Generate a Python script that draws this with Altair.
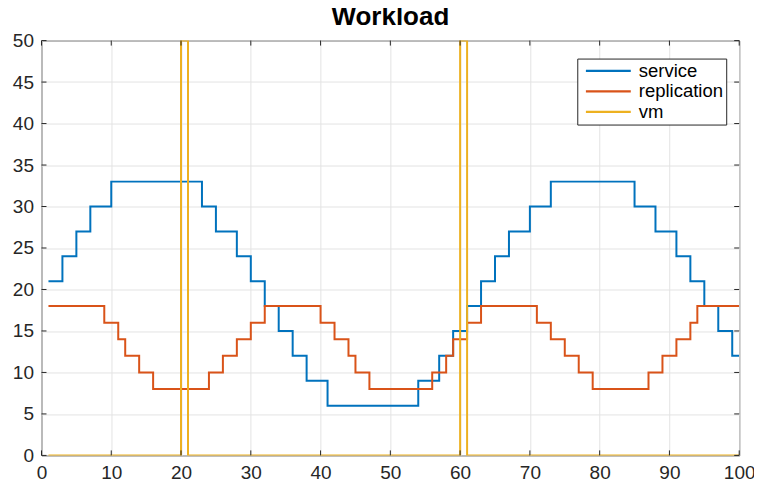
import altair as alt
import pandas as pd

# Step breakpoints (value holds from x until the next x)
service_x = [1, 3, 5, 7, 10, 23, 25, 28, 30, 32, 34, 36, 38, 41, 54, 57, 59, 61, 63, 65, 67, 70, 73, 85, 88, 91, 93, 95, 97, 99, 100]
service_y = [21, 24, 27, 30, 33, 30, 27, 24, 21, 18, 15, 12, 9, 6, 9, 12, 15, 18, 21, 24, 27, 30, 33, 30, 27, 24, 21, 18, 15, 12, 12]

replication_x = [1, 9, 11, 12, 14, 16, 24, 26, 28, 30, 32, 40, 42, 44, 45, 47, 56, 58, 59, 61, 63, 71, 73, 75, 77, 79, 87, 89, 91, 93, 94, 100]
replication_y = [18, 16, 14, 12, 10, 8, 10, 12, 14, 16, 18, 16, 14, 12, 10, 8, 10, 12, 14, 16, 18, 16, 14, 12, 10, 8, 10, 12, 14, 16, 18, 18]

vm_x = [1, 20, 21, 60, 61, 100]
vm_y = [0, 50, 0, 50, 0, 0]

series_names = ["service", "replication", "vm"]
series_colors = ["#0072BD", "#D95319", "#EDB120"]
x_ticks = list(range(0, 101, 10))
y_ticks = list(range(0, 51, 5))

frames = []
for name, xs, ys in [("service", service_x, service_y),
                     ("replication", replication_x, replication_y),
                     ("vm", vm_x, vm_y)]:
    frames.append(pd.DataFrame({"x": xs, "value": ys, "series": name}))
df = pd.concat(frames, ignore_index=True)
xt_df = pd.DataFrame({"x": x_ticks})
yt_df = pd.DataFrame({"value": y_ticks})

FONT = "Liberation Sans"
W, H = 698, 415
TICK = 5
FRAME = "#262626"

xscale = alt.Scale(domain=[0, 100], nice=False)
yscale = alt.Scale(domain=[0, 50], nice=False)
xaxis = alt.Axis(values=x_ticks, title=None, grid=True, domain=False,
                 ticks=False, labelPadding=8, labelFlush=False)
yaxis = alt.Axis(values=y_ticks, title=None, grid=True, domain=False,
                 ticks=False, labelPadding=8)
xenc = alt.X("x:Q", scale=xscale, axis=xaxis)
yenc = alt.Y("value:Q", scale=yscale, axis=yaxis)

# line legend symbol: path spans from -1r to +7r around the nominal symbol centre
cenc = alt.Color("series:N",
                 scale=alt.Scale(domain=series_names, range=series_colors),
                 legend=alt.Legend(title=None, orient="none", legendX=536, legendY=18,
                                   symbolType="M-1,0H7", symbolSize=126, symbolStrokeWidth=2.2,
                                   symbolOffset=2,
                                   labelFontSize=18.5, labelFont=FONT, labelColor="#000000",
                                   labelOffset=38, padding=3, rowPadding=1.5,
                                   strokeColor=FRAME, fillColor="#ffffff"))

layers = []
for name in series_names:
    layers.append(
        alt.Chart(df).transform_filter(alt.datum.series == name)
        .mark_line(interpolate="step-after", strokeWidth=2, clip=True)
        .encode(x=xenc, y=yenc, color=cenc)
    )

# inward tick marks on all four sides
tick_mark = dict(color=FRAME, strokeWidth=1)
layers.append(alt.Chart(xt_df).mark_rule(**tick_mark).encode(
    x=xenc, y=alt.value(H), y2=alt.value(H - TICK)))
layers.append(alt.Chart(xt_df).mark_rule(**tick_mark).encode(
    x=xenc, y=alt.value(0), y2=alt.value(TICK)))
layers.append(alt.Chart(yt_df).mark_rule(**tick_mark).encode(
    y=yenc, x=alt.value(0), x2=alt.value(TICK)))
layers.append(alt.Chart(yt_df).mark_rule(**tick_mark).encode(
    y=yenc, x=alt.value(W), x2=alt.value(W - TICK)))

chart = alt.layer(*layers).properties(
    width=W, height=H,
    title=alt.Title("Workload", fontSize=26, fontWeight="bold", font=FONT,
                    color="#000000", anchor="middle", offset=2, frame="group"),
    padding={"left": 3.5, "top": -4.5, "right": -1.2, "bottom": -3},
).configure_view(
    stroke=FRAME, strokeWidth=1
).configure_axis(
    labelFont=FONT, labelFontSize=19, labelColor=FRAME,
    gridColor="#e3e3e3", gridWidth=1
)

chart.save("out.html", embed_options={"renderer": "svg", "actions": False})
